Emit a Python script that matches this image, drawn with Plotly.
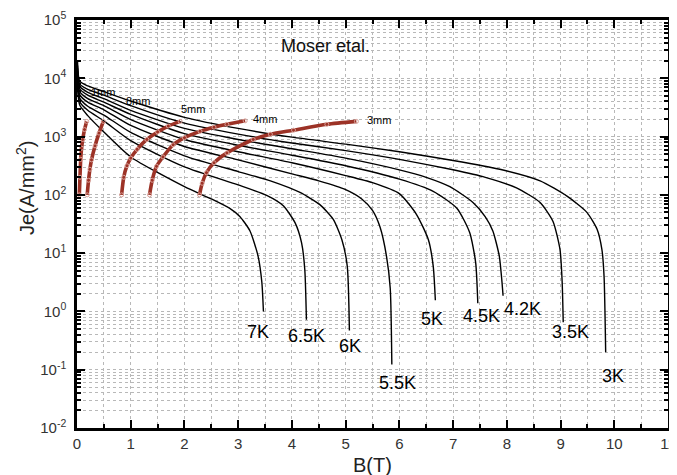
import plotly.graph_objects as go

# ---------------- data ----------------
temps = ["3K", "3.5K", "4.2K", "4.5K", "5K", "5.5K", "6K", "6.5K", "7K"]

b_3K = [0.01, 0.05, 0.2, 0.5, 1, 2, 3, 4, 5, 6, 7, 7.87, 8.62, 9.12, 9.49, 9.68, 9.77, 9.81, 9.84]
je_3K = [19000, 8900, 7400, 5900, 4070, 2140, 1380, 977, 741, 550, 389, 275, 174, 95, 50, 25.7, 11.5, 4.0, 0.2]

b_35K = [0.01, 0.05, 0.2, 0.5, 1, 2, 3, 4, 5, 6, 7, 7.6, 8.18, 8.62, 8.86, 8.99, 9.03, 9.05]
je_35K = [16600, 7940, 6460, 5130, 3390, 1700, 1100, 776, 575, 407, 269, 200, 132, 74, 35, 11.5, 3.2, 0.65]

b_42K = [0.01, 0.05, 0.2, 0.5, 1, 2, 3, 4, 5, 6, 6.5, 6.94, 7.37, 7.6, 7.74, 7.86, 7.91, 7.93]
je_42K = [14800, 7240, 5750, 4470, 2820, 1380, 891, 617, 427, 269, 200, 138, 74, 42, 24, 8.9, 3.2, 1.86]

b_45K = [0.01, 0.05, 0.2, 0.5, 1, 2, 3, 4, 5, 6, 6.63, 7.07, 7.31, 7.42, 7.46]
je_45K = [13200, 6610, 5130, 3890, 2400, 1120, 708, 479, 316, 186, 115, 59, 22.4, 6.9, 1.38]

b_5K = [0.01, 0.05, 0.2, 0.5, 1, 2, 3, 4, 5, 5.5, 6, 6.32, 6.54, 6.63, 6.67]
je_5K = [11750, 5890, 4470, 3390, 1950, 891, 550, 355, 214, 162, 105, 46, 17, 6.0, 1.55]

b_55K = [0.01, 0.05, 0.2, 0.5, 1, 2, 3, 4, 4.5, 5.0, 5.3, 5.5, 5.64, 5.76, 5.83, 5.86]
je_55K = [10470, 5250, 3890, 2880, 1550, 676, 398, 229, 174, 123, 85, 54, 28, 8.9, 2.5, 0.123]

b_6K = [0.01, 0.05, 0.2, 0.5, 1, 2, 3, 3.6, 4.15, 4.52, 4.77, 4.93, 5.03, 5.07]
je_6K = [9330, 4570, 3310, 2340, 1175, 468, 251, 174, 110, 68, 38, 17, 6.0, 0.47]

b_65K = [0.01, 0.05, 0.2, 0.5, 1, 2, 3, 3.53, 3.84, 4.06, 4.18, 4.24, 4.27]
je_65K = [8320, 3980, 2820, 1860, 851, 302, 148, 98, 65, 33, 15, 5.2, 0.72]

b_7K = [0.01, 0.05, 0.2, 0.5, 1, 2, 2.5, 2.85, 3.03, 3.22, 3.37, 3.44, 3.47]
je_7K = [7410, 3470, 2290, 1200, 447, 138, 85, 58, 42.7, 24, 8.9, 3.2, 1.0]

# red curves (conductor diameters)
diams = ["1mm", "8mm", "5mm", "4mm", "3mm"]
b_1mm = [0.043, 0.055, 0.069, 0.085, 0.106, 0.14, 0.18]
je_1mm = [100, 200, 407, 631, 891, 1318, 1820]
b_8mm = [0.19, 0.215, 0.24, 0.27, 0.335, 0.41, 0.49]
je_8mm = [100, 178, 275, 398, 692, 1148, 1820]
b_5mm = [0.83, 0.87, 0.93, 1.0, 1.12, 1.3, 1.5, 1.7, 1.92]
je_5mm = [100, 200, 316, 427, 603, 891, 1202, 1514, 1820]
b_4mm = [1.35, 1.40, 1.48, 1.6, 1.79, 2.0, 2.29, 2.55, 2.79, 3.13]
je_4mm = [100, 178, 309, 447, 724, 955, 1230, 1445, 1622, 1862]
b_3mm = [2.28, 2.33, 2.41, 2.55, 2.79, 3.28, 3.6, 4.03, 4.65, 5.2]
je_3mm = [100, 158, 240, 355, 525, 891, 1096, 1288, 1622, 1820]

# tick labels
x_ticks = list(range(0, 12))
y_tickvals = [1e-2, 1e-1, 1, 1e1, 1e2, 1e3, 1e4, 1e5]
y_ticktext = ["10<sup>-2</sup>", "10<sup>-1</sup>", "10<sup>0</sup>", "10<sup>1</sup>",
              "10<sup>2</sup>", "10<sup>3</sup>", "10<sup>4</sup>", "10<sup>5</sup>"]

# label positions: (B, log10 Je)
temp_label_b = [9.98, 9.19, 8.30, 7.52, 6.61, 5.96, 5.08, 4.28, 3.37]
temp_label_logje = [-1.115, -0.36, 0.05, -0.086, -0.137, -1.235, -0.60, -0.43, -0.36]
diam_label_b = [0.48, 1.13, 2.15, 3.50, 5.615]
diam_label_logje = [3.77, 3.61, 3.465, 3.305, 3.276]

black_series = [(b_3K, je_3K), (b_35K, je_35K), (b_42K, je_42K), (b_45K, je_45K),
                (b_5K, je_5K), (b_55K, je_55K), (b_6K, je_6K), (b_65K, je_65K), (b_7K, je_7K)]
red_series = [(b_1mm, je_1mm), (b_8mm, je_8mm), (b_5mm, je_5mm), (b_4mm, je_4mm), (b_3mm, je_3mm)]

FONT = "Liberation Sans, Arial, Helvetica, sans-serif"
RED = "#9c3226"

fig = go.Figure()
for name, (bx, jy) in zip(temps, black_series):
    fig.add_trace(go.Scatter(x=bx, y=jy, mode="lines", name=name,
                             line=dict(color="black", width=1.4, shape="spline", smoothing=0.6),
                             showlegend=False, hoverinfo="skip"))
for name, (bx, jy) in zip(diams, red_series):
    fig.add_trace(go.Scatter(x=bx, y=jy, mode="lines+markers", name=name,
                             line=dict(color=RED, width=3.6, shape="spline", smoothing=0.7),
                             marker=dict(symbol="circle-open", size=4, color="#d9a098",
                                         line=dict(width=1)),
                             showlegend=False, hoverinfo="skip"))

# page body has an 8px default margin: compensate so the plot box lands at
# x 77..668, y 20..428 of the window
OFF = 8
W, H = 677, 475
L, T = 77 - OFF, 20 - OFF
pw, ph = 591, 408
R, B = W - L - pw, H - T - ph


def px_to_paper(X, Y):
    return (X - OFF - L) / pw, (OFF + T + ph - Y) / ph


annotations = []
for t, bx, ly in zip(temps, temp_label_b, temp_label_logje):
    annotations.append(dict(x=bx, y=ly, xref="x", yref="y", text=t, showarrow=False,
                            xanchor="center", yanchor="middle",
                            font=dict(family=FONT, size=18, color="black")))
for d, bx, ly in zip(diams, diam_label_b, diam_label_logje):
    annotations.append(dict(x=bx, y=ly, xref="x", yref="y", text=d, showarrow=False,
                            xanchor="center", yanchor="middle",
                            font=dict(family=FONT, size=11, color="black")))
annotations.append(dict(x=4.62, y=4.55, xref="x", yref="y", text="Moser etal.",
                        showarrow=False, xanchor="center", yanchor="middle",
                        font=dict(family=FONT, size=18, color="#111")))
bx_, by_ = px_to_paper(372, 465)
annotations.append(dict(x=bx_, y=by_, xref="paper", yref="paper",
                        text="B(T)", showarrow=False, xanchor="center", yanchor="middle",
                        font=dict(family=FONT, size=20, color="#222")))
jx_, jy_ = px_to_paper(25, 188)
annotations.append(dict(x=jx_, y=jy_, xref="paper", yref="paper",
                        text="Je(A/mm<sup>2</sup>)", showarrow=False, textangle=-90,
                        xanchor="center", yanchor="middle",
                        font=dict(family=FONT, size=20, color="#222")))

minor_grid = dict(showgrid=True, gridcolor="#b8b8b8", griddash="dot", gridwidth=1)
fig.update_layout(
    width=W, height=H,
    margin=dict(l=L, r=R, t=T, b=B, autoexpand=False),
    paper_bgcolor="white", plot_bgcolor="white",
    font=dict(family=FONT, size=15, color="#333"),
    annotations=annotations,
    xaxis=dict(range=[0, 11], tickvals=x_ticks, ticks="inside", ticklen=8, tickwidth=2,
               tickcolor="black", showline=True, linecolor="black", linewidth=2.5,
               mirror="ticks", zeroline=False, automargin=False,
               showgrid=True, gridcolor="#b8b8b8", griddash="dot", gridwidth=1,
               minor=dict(dtick=0.5, ticks="inside", ticklen=4, tickwidth=1.5,
                          tickcolor="black", **minor_grid),
               tickfont=dict(size=15, color="#333")),
    yaxis=dict(type="log", range=[-2, 5], tickvals=y_tickvals, ticktext=y_ticktext,
               ticks="inside", ticklen=8, tickwidth=2, ticklabelstandoff=5,
               tickcolor="black", showline=True, linecolor="black", linewidth=2.5,
               mirror="ticks", zeroline=False, automargin=False,
               showgrid=True, gridcolor="#b8b8b8", griddash="dot", gridwidth=1,
               minor=dict(ticks="inside", ticklen=4, tickwidth=1.5, tickcolor="black",
                          dtick="D1", **minor_grid),
               tickfont=dict(size=15, color="#333")),
)

fig.write_html("out.html")
